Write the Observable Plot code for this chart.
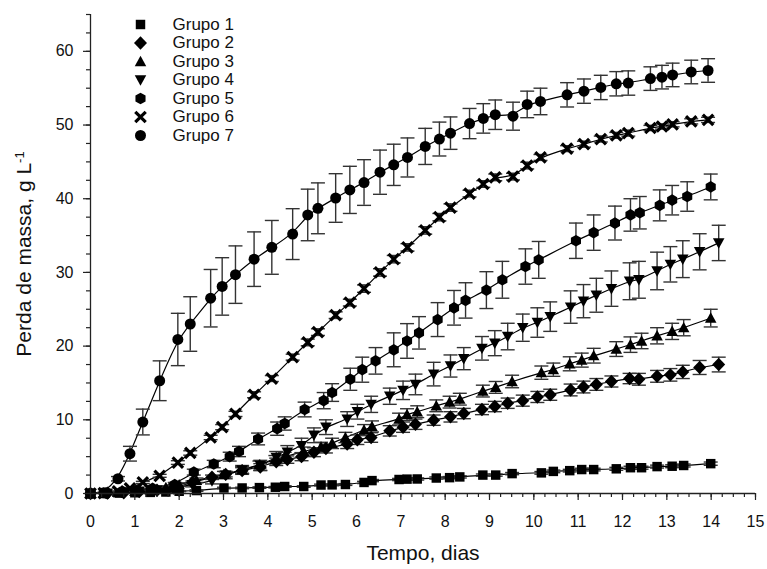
<!DOCTYPE html>
<html><head><meta charset="utf-8">
<script src="https://cdn.jsdelivr.net/npm/d3@7"></script>
<script src="https://cdn.jsdelivr.net/npm/@observablehq/plot@0.6"></script>
<style>body{margin:0;background:#fff} svg{display:block;overflow:visible}</style>
</head><body><div id="chart"></div>
<script>
const groupNames = ["Grupo 1","Grupo 2","Grupo 3","Grupo 4","Grupo 5","Grupo 6","Grupo 7"];
// sampling times (days)
const tA = [0,0.3,0.62,0.89,1.18,1.56,1.97,2.25,2.71,2.97,3.27,3.69,4.09,4.56,4.90,5.13,5.53,5.85,6.17,6.53,6.84,7.15,7.55,7.87,8.12,8.55,8.86,9.13,9.53,9.85,10.15,10.75,11.13,11.51,11.86,12.13,12.63,12.89,13.13,13.55,13.93];
const tB = [0,0.38,0.75,1.1,1.5,1.88,2.3,2.74,3.05,3.42,3.83,4.19,4.44,4.76,5.04,5.31,5.79,6.02,6.33,6.75,7.05,7.33,7.74,8.12,8.42,8.83,9.12,9.41,9.75,10.08,10.37,10.83,11.12,11.41,11.75,12.16,12.37,12.78,13.08,13.36,13.74,14.17];
const tC = [0,0.3,0.65,1.0,1.35,1.7,2.0,2.39,3.01,3.42,3.81,4.17,4.38,4.81,5.20,5.45,5.75,6.17,6.35,6.96,7.14,7.37,7.80,8.10,8.33,8.85,9.14,9.51,10.17,10.44,10.81,11.08,11.35,11.86,12.18,12.43,12.78,13.12,13.38,13.99];
const tD = [0,0.35,0.7,1.05,1.4,1.9,2.33,2.78,3.14,3.35,3.78,4.21,4.38,4.83,5.26,5.45,5.86,6.13,6.43,6.84,7.14,7.41,7.83,8.20,8.46,8.93,9.29,9.81,10.11,10.95,11.35,11.83,12.18,12.39,12.84,13.12,13.46,13.99];
// mean mass loss (g/L) and error
const g1 = [0,0,0.05,0.1,0.15,0.2,0.3,0.4,0.75,0.75,0.8,0.85,0.95,0.95,1.15,1.17,1.22,1.5,1.75,1.9,1.95,1.97,2.1,2.15,2.25,2.5,2.5,2.7,2.8,3.0,3.1,3.25,3.25,3.35,3.5,3.5,3.65,3.7,3.8,4.05];
const e1 = [0,0,0,0.05,0.05,0.05,0.05,0.1,0.1,0.1,0.1,0.1,0.1,0.1,0.12,0.12,0.12,0.15,0.15,0.15,0.15,0.15,0.15,0.15,0.15,0.15,0.15,0.15,0.18,0.18,0.18,0.18,0.18,0.2,0.2,0.2,0.2,0.2,0.2,0.22];
const g2 = [0,0.05,0.1,0.25,0.45,0.75,1.5,2.2,2.6,3.1,3.6,4.3,4.6,5.0,5.6,6.1,6.7,7.3,7.6,8.5,9.0,9.4,9.95,10.4,10.85,11.4,11.8,12.25,12.6,13.1,13.4,14.05,14.45,14.8,15.2,15.6,15.5,15.9,16.1,16.5,17.1,17.5];
const e2 = [0,0,0.05,0.1,0.1,0.15,0.2,0.3,0.35,0.4,0.45,0.5,0.5,0.55,0.6,0.6,0.6,0.65,0.65,0.7,0.7,0.7,0.7,0.7,0.7,0.7,0.7,0.7,0.75,0.75,0.75,0.8,0.8,0.8,0.75,0.7,0.8,0.8,0.85,0.9,0.95,1.0];
const g3 = [0,0.05,0.15,0.3,0.5,0.8,1.2,1.8,2.6,3.2,3.9,4.6,5.0,5.7,6.3,6.8,7.6,8.6,9.1,10.1,10.7,11.1,11.9,12.4,12.8,13.9,14.4,15.2,16.4,16.8,17.6,18.1,18.7,19.6,20.2,20.7,21.4,22.0,22.5,23.8];
const e3 = [0,0,0.05,0.1,0.15,0.2,0.25,0.3,0.4,0.45,0.5,0.55,0.6,0.6,0.65,0.7,0.7,0.75,0.75,0.8,0.8,0.8,0.8,0.8,0.8,0.8,0.8,0.85,0.9,0.9,0.95,0.95,1.0,1.0,1.05,1.05,1.1,1.1,1.1,1.2];
const g4 = [0,0.05,0.15,0.3,0.5,0.8,1.2,1.7,2.5,3.2,3.8,4.9,5.6,6.5,7.9,9.0,10.1,11.1,12.1,13.2,14.0,14.8,16.2,17.3,18.3,19.7,20.4,21.3,22.5,23.2,24.0,25.3,26.1,26.9,27.8,28.8,29.0,30.2,31.1,31.8,32.8,34.0];
const e4 = [0,0,0.05,0.1,0.15,0.2,0.3,0.4,0.5,0.6,0.7,0.8,0.9,1.0,1.0,1.0,1.0,1.0,1.1,1.1,1.25,1.4,1.6,1.5,1.5,1.6,1.7,1.8,1.85,2.0,2.0,2.2,2.25,2.3,2.4,2.5,2.5,2.55,2.4,2.5,2.45,2.4];
const g5 = [0,0.05,0.2,0.4,0.7,1.2,2.9,4.0,5.0,5.7,7.4,8.8,9.5,11.4,12.6,13.7,15.5,16.8,18.0,19.5,20.7,21.8,23.6,25.2,26.2,27.6,29.0,30.8,31.7,34.3,35.4,36.7,37.8,38.1,39.1,39.8,40.3,41.6];
const e5 = [0,0,0.05,0.1,0.15,0.3,0.4,0.5,0.6,0.7,0.8,0.9,0.9,1.0,1.1,1.2,1.5,1.7,1.8,2.3,2.35,2.2,2.3,2.35,2.4,2.5,2.5,2.4,2.5,2.4,2.4,2.3,2.2,2.2,2.1,2.0,2.0,1.75];
const g6 = [0,0.05,0.3,0.7,1.5,2.4,4.2,5.5,7.6,9.0,10.8,13.4,15.6,18.5,20.5,21.9,24.2,25.9,27.8,30.0,31.8,33.4,35.7,37.5,38.8,40.7,42.0,42.9,43.0,44.5,45.6,46.8,47.4,48.1,48.6,48.9,49.6,49.8,50.1,50.5,50.7];
const e6 = [0,0,0.05,0.1,0.15,0.2,0.25,0.3,0.3,0.35,0.35,0.4,0.4,0.4,0.45,0.45,0.45,0.45,0.5,0.5,0.5,0.5,0.5,0.5,0.5,0.45,0.45,0.45,0.45,0.45,0.4,0.4,0.4,0.4,0.4,0.4,0.35,0.35,0.35,0.35,0.35];
const g7 = [0,0.1,2.0,5.4,9.7,15.3,20.9,23.0,26.5,28.1,29.7,31.8,33.4,35.2,37.8,38.7,40.1,41.2,42.2,43.6,44.6,45.6,47.1,48.1,48.9,50.2,50.9,51.4,51.2,52.8,53.2,54.1,54.6,55.1,55.6,55.7,56.3,56.5,56.8,57.2,57.4];
const e7 = [0,0.05,0.3,1.0,1.75,2.7,3.55,3.7,3.9,3.9,3.9,3.7,3.65,3.45,3.5,3.45,3.3,3.2,3.1,3.0,2.8,2.65,2.45,2.3,2.2,2.05,2.0,2.0,1.9,1.8,1.8,1.65,1.65,1.65,1.65,1.65,1.6,1.6,1.6,1.6,1.6];
const xTicks = [0,1,2,3,4,5,6,7,8,9,10,11,12,13,14,15];
const yTicks = [0,10,20,30,40,50,60];
const xTitle = "Tempo, dias";
const yTitle = "Perda de massa, g L";
const yTitleSup = "-1";

// marker shapes
const R = 5.5;
const rad = s => Math.sqrt(s / Math.PI);
const sqSym = {draw(c,s){const h=0.86*rad(s); c.rect(-h,-h,2*h,2*h);}};
const diaSym = {draw(c,s){const h=1.22*rad(s),w=1.18*rad(s); c.moveTo(0,-h); c.lineTo(w,0); c.lineTo(0,h); c.lineTo(-w,0); c.closePath();}};
const triUp = {draw(c,s){const r=rad(s); c.moveTo(0,-1.05*r); c.lineTo(1.05*r,0.85*r); c.lineTo(-1.05*r,0.85*r); c.closePath();}};
const triDn = {draw(c,s){const r=rad(s); c.moveTo(0,1.05*r); c.lineTo(1.05*r,-0.85*r); c.lineTo(-1.05*r,-0.85*r); c.closePath();}};
const hexSym = {draw(c,s){const r=1.06*rad(s); for(let k=0;k<6;k++){const a=-Math.PI/2+k*Math.PI/3; k?c.lineTo(r*Math.cos(a),r*Math.sin(a)):c.moveTo(r*Math.cos(a),r*Math.sin(a));} c.closePath();}};
const xSym = {draw(c,s){const a=0.95*rad(s); c.moveTo(-a,-a); c.lineTo(a,a); c.moveTo(a,-a); c.lineTo(-a,a);}};
const cirSym = {draw(c,s){const r=rad(s); c.moveTo(r,0); c.arc(0,0,r,0,2*Math.PI);}};
const capSym = {draw(c){c.moveTo(-7,0); c.lineTo(7,0);}};

const series = [
  {name: groupNames[0], t: tC, v: g1, e: e1, sym: sqSym},
  {name: groupNames[1], t: tB, v: g2, e: e2, sym: diaSym},
  {name: groupNames[2], t: tC, v: g3, e: e3, sym: triUp},
  {name: groupNames[3], t: tB, v: g4, e: e4, sym: triDn},
  {name: groupNames[4], t: tD, v: g5, e: e5, sym: hexSym},
  {name: groupNames[5], t: tA, v: g6, e: e6, sym: xSym, stroked: true},
  {name: groupNames[6], t: tA, v: g7, e: e7, sym: cirSym}
];
series.forEach(s => s.rows = s.t.map((t,i) => ({g: s.name, t, v: s.v[i], e: s.e[i]})));
const all = series.flatMap(s => s.rows);
const withErr = all.filter(d => d.e > 0);

const ink = "#222";
const marks = [];
// fitted curves
series.forEach(s => marks.push(Plot.line(s.rows, {x: "t", y: "v", curve: "basis", stroke: "#000", strokeWidth: 1.2})));
// error bars
marks.push(Plot.ruleX(withErr, {x: "t", y1: d => d.v - d.e, y2: d => d.v + d.e, stroke: "#333", strokeWidth: 1.4}));
marks.push(Plot.dot(withErr, {x: "t", y: d => d.v + d.e, symbol: capSym, r: R, fill: "none", stroke: "#333", strokeWidth: 1.4}));
marks.push(Plot.dot(withErr, {x: "t", y: d => d.v - d.e, symbol: capSym, r: R, fill: "none", stroke: "#333", strokeWidth: 1.4}));
// markers
series.forEach(s => marks.push(s.stroked
  ? Plot.dot(s.rows, {x: "t", y: "v", symbol: s.sym, r: R, fill: "none", stroke: "#000", strokeWidth: 3.2})
  : Plot.dot(s.rows, {x: "t", y: "v", symbol: s.sym, r: R, fill: "#000", stroke: "none"})));
// axes
marks.push(Plot.ruleY([0], {stroke: ink, strokeWidth: 1.3}));
marks.push(Plot.ruleX([0], {stroke: ink, strokeWidth: 1.3}));
marks.push(Plot.axisX({ticks: d3.range(0, 15.001, 0.25), tickSize: 4, tickFormat: () => "", label: null, stroke: ink, strokeWidth: 1.2}));
marks.push(Plot.axisX({ticks: xTicks, tickSize: 7, tickPadding: 15, fontSize: 16, label: null, stroke: ink, strokeWidth: 1.2, color: "#111"}));
marks.push(Plot.axisY({ticks: d3.range(0, 65.001, 2.5), tickSize: 4, tickFormat: () => "", label: null, stroke: ink, strokeWidth: 1.2}));
marks.push(Plot.axisY({ticks: yTicks, tickSize: 7, tickPadding: 10, fontSize: 16, label: null, stroke: ink, strokeWidth: 1.2, color: "#111"}));
// axis titles
marks.push(Plot.text([xTitle], {text: d => d, frameAnchor: "bottom", dy: 60, fontSize: 21, lineAnchor: "middle", textAnchor: "middle", fill: "#111"}));
marks.push(Plot.text([yTitle], {text: d => d, frameAnchor: "left", dx: -66, rotate: -90, fontSize: 21, lineAnchor: "middle", textAnchor: "middle", fill: "#111", className: "ytitle"}));
// legend
series.forEach((s, i) => {
  marks.push(s.stroked
    ? Plot.dot([0], {frameAnchor: "top-left", dx: 50, dy: 10 + 18.5 * i, symbol: s.sym, r: R, fill: "none", stroke: "#000", strokeWidth: 3.2})
    : Plot.dot([0], {frameAnchor: "top-left", dx: 50, dy: 10 + 18.5 * i, symbol: s.sym, r: R, fill: "#000"}));
  marks.push(Plot.text([s.name], {text: d => d, frameAnchor: "top-left", dx: 82, dy: 10 + 18.5 * i, textAnchor: "start", lineAnchor: "middle", fontSize: 17, fill: "#111"}));
});

const chart = Plot.plot({
  width: 767, height: 569,
  marginLeft: 90, marginRight: 12, marginTop: 14, marginBottom: 76,
  x: {domain: [0, 15]},
  y: {domain: [0, 65]},
  style: {fontFamily: "'Liberation Sans', Arial, sans-serif", background: "#fff", overflow: "visible"},
  marks
});
document.getElementById("chart").appendChild(chart);
const yt = chart.querySelector(".ytitle text");
if (yt) {
  yt.textContent = yTitle;
  const sup = document.createElementNS("http://www.w3.org/2000/svg", "tspan");
  sup.setAttribute("dy", "-0.55em");
  sup.setAttribute("font-size", "13");
  sup.textContent = yTitleSup;
  yt.appendChild(sup);
}
</script>
</body></html>
